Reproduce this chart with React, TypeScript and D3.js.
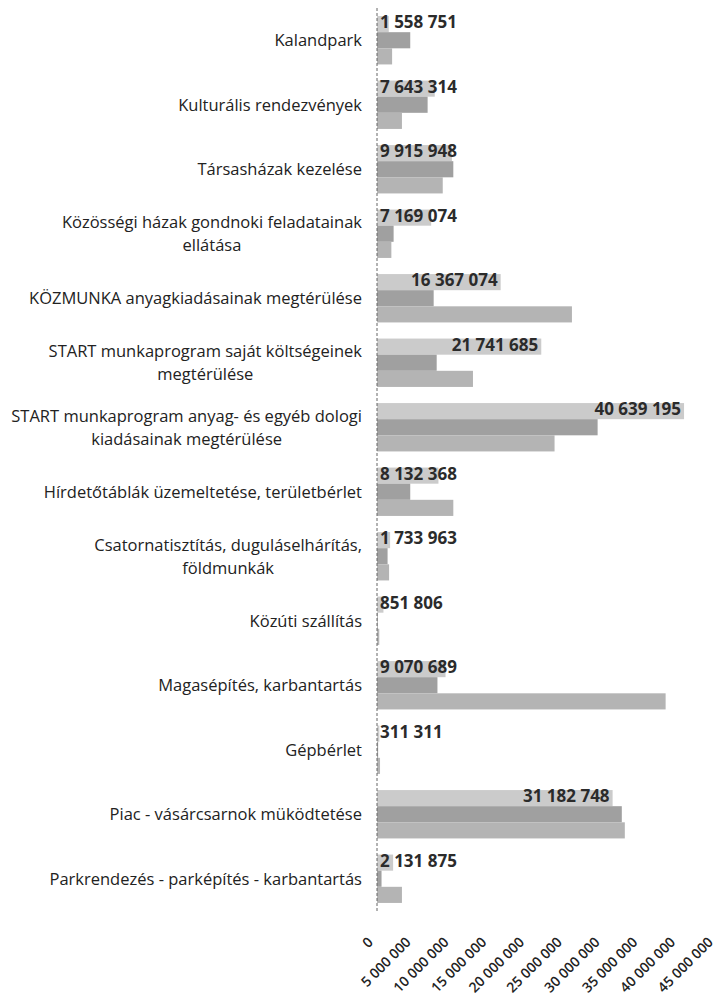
import React, { useEffect, useRef } from "react";
import * as d3 from "d3";

const categories = [
  ["Kalandpark"],
  ["Kulturális rendezvények"],
  ["Társasházak kezelése"],
  ["Közösségi házak gondnoki feladatainak", "ellátása"],
  ["KÖZMUNKA anyagkiadásainak megtérülése"],
  ["START munkaprogram saját költségeinek", "megtérülése"],
  ["START munkaprogram anyag- és egyéb dologi", "kiadásainak megtérülése"],
  ["Hírdetőtáblák üzemeltetése, területbérlet"],
  ["Csatornatisztítás, duguláselhárítás,", "földmunkák"],
  ["Közúti szállítás"],
  ["Magasépítés, karbantartás"],
  ["Gépbérlet"],
  ["Piac - vásárcsarnok müködtetése"],
  ["Parkrendezés - parképítés - karbantartás"],
];

// first series (labelled), second and third
const series1 = [
  1558751, 7643314, 9915948, 7169074, 16367074, 21741685, 40639195, 8132368,
  1733963, 851806, 9070689, 311311, 31182748, 2131875,
];
const series2 = [
  4400000, 6700000, 10100000, 2200000, 7500000, 7900000, 29200000, 4400000,
  1400000, 100000, 8000000, 150000, 32400000, 600000,
];
const series3 = [
  2000000, 3300000, 8700000, 1900000, 25800000, 12700000, 23500000, 10100000,
  1600000, 300000, 38200000, 400000, 32800000, 3300000,
];
const tickValues = [0, 5e6, 10e6, 15e6, 20e6, 25e6, 30e6, 35e6, 40e6, 45e6];

const seriesColors = ["#cbcbcb", "#a0a0a0", "#b4b4b4"];

const App = () => {
  const svgRef = useRef<SVGSVGElement>(null);

  useEffect(() => {
    const width = 717;
    const height = 1006;
    const x0 = 377;
    const plotTop = 8;
    const plotBottom = 911;
    const labelRight = 362;

    const svg = d3.select(svgRef.current);
    svg.selectAll("*").remove();
    svg.attr("width", width).attr("height", height);

    const fmt = d3.formatLocale({
      decimal: ",",
      thousands: " ",
      grouping: [3],
      currency: ["", ""],
    }).format(",d");

    const keys = categories.map((_, i) => String(i));
    const xScale = d3.scaleLinear().domain([0, 45e6]).range([x0, 717]);
    const yScale = d3
      .scaleBand()
      .domain(keys)
      .range([plotTop, plotBottom])
      .paddingInner(0.25)
      .paddingOuter(0.125);
    const ySub = d3
      .scaleBand()
      .domain(["0", "1", "2"])
      .range([0, yScale.bandwidth()]);

    const allSeries = [series1, series2, series3];

    // bars
    allSeries.forEach((vals, s) => {
      svg
        .append("g")
        .selectAll("rect")
        .data(vals)
        .enter()
        .append("rect")
        .attr("x", x0)
        .attr("y", (d, i) => yScale(String(i))! + ySub(String(s))!)
        .attr("width", (d) => Math.max(0, xScale(d) - x0))
        .attr("height", ySub.bandwidth())
        .attr("fill", seriesColors[s]);
    });

    // vertical axis line
    svg
      .append("line")
      .attr("x1", x0)
      .attr("x2", x0)
      .attr("y1", plotTop)
      .attr("y2", plotBottom)
      .attr("stroke", "#666")
      .attr("stroke-width", 1)
      .attr("stroke-dasharray", "3,2");

    // data labels for first series (inside end, never past the axis)
    const labels = svg
      .append("g")
      .selectAll("text")
      .data(series1)
      .enter()
      .append("text")
      .attr("font-family", "'Open Sans', sans-serif")
      .attr("font-size", 17)
      .attr("font-weight", 700)
      .attr("fill", "#2b2b2b")
      .attr("y", (d, i) => yScale(String(i))! + ySub("0")! + ySub.bandwidth() / 2 + 4)
      .text((d) => fmt(d));
    labels.each(function (d) {
      const node = this as SVGTextElement;
      const w = node.getComputedTextLength();
      const end = Math.max(x0 + 3 + w, xScale(d) - 3);
      d3.select(node).attr("x", end - w);
    });

    // category labels
    const catG = svg.append("g");
    categories.forEach((lines, i) => {
      const cy = yScale(String(i))! + yScale.bandwidth() / 2;
      const lineH = 23;
      const g = catG.append("g");
      const texts = lines.map((line, j) =>
        g
          .append("text")
          .attr("font-family", "'Open Sans', sans-serif")
          .attr("font-size", 16.5)
          .attr("fill", "#222")
          .attr("text-anchor", "middle")
          .attr("y", cy + (j - (lines.length - 1) / 2) * lineH + 6)
          .text(line)
      );
      const maxW = d3.max(texts, (t) => (t.node() as SVGTextElement).getComputedTextLength()) || 0;
      texts.forEach((t) => t.attr("x", labelRight - maxW / 2));
    });

    // x tick labels, rotated
    svg
      .append("g")
      .selectAll("text")
      .data(tickValues)
      .enter()
      .append("text")
      .attr("font-family", "'Open Sans', sans-serif")
      .attr("font-size", 14)
      .attr("font-weight", 600)
      .attr("fill", "#222")
      .attr("text-anchor", "end")
      .attr("transform", (d) => `translate(${xScale(d) - 3},${plotBottom + 32}) rotate(-45)`)
      .text((d) => fmt(d));
  }, []);

  return (
    <div style={{ position: "absolute", left: 0, top: 0, background: "#fff" }}>
      <svg ref={svgRef}></svg>
    </div>
  );
};

export default App;
